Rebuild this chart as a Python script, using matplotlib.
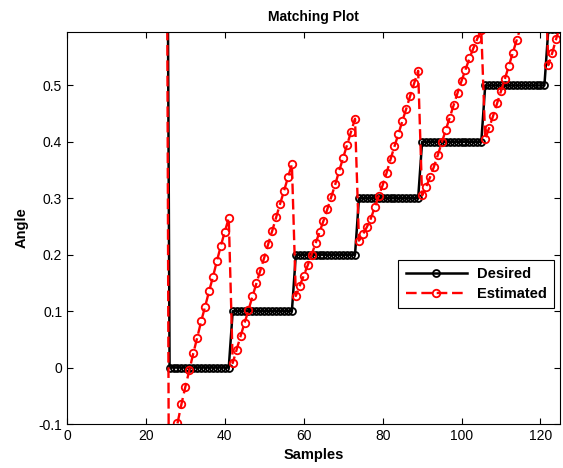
import numpy as np
import matplotlib
matplotlib.use('Agg')
import matplotlib.pyplot as plt

plt.rcParams['font.family'] = ['Liberation Sans', 'DejaVu Sans']

# sample index shared by both curves
samples = list(range(25, 126))

desired = [1.5,
           0.0, 0.0, 0.0, 0.0, 0.0, 0.0, 0.0, 0.0, 0.0, 0.0, 0.0, 0.0, 0.0, 0.0, 0.0, 0.0,
           0.1, 0.1, 0.1, 0.1, 0.1, 0.1, 0.1, 0.1, 0.1, 0.1, 0.1, 0.1, 0.1, 0.1, 0.1, 0.1,
           0.2, 0.2, 0.2, 0.2, 0.2, 0.2, 0.2, 0.2, 0.2, 0.2, 0.2, 0.2, 0.2, 0.2, 0.2, 0.2,
           0.3, 0.3, 0.3, 0.3, 0.3, 0.3, 0.3, 0.3, 0.3, 0.3, 0.3, 0.3, 0.3, 0.3, 0.3, 0.3,
           0.4, 0.4, 0.4, 0.4, 0.4, 0.4, 0.4, 0.4, 0.4, 0.4, 0.4, 0.4, 0.4, 0.4, 0.4, 0.4,
           0.5, 0.5, 0.5, 0.5, 0.5, 0.5, 0.5, 0.5, 0.5, 0.5, 0.5, 0.5, 0.5, 0.5, 0.5, 0.5,
           0.6, 0.6, 0.6, 0.6]

estimated = [1.5,
             -0.6, -0.13, -0.099, -0.065, -0.034, -0.005, 0.025, 0.053,
             0.082, 0.108, 0.135, 0.161, 0.189, 0.216, 0.241, 0.265,
             0.008, 0.032, 0.056, 0.079, 0.102, 0.126, 0.149, 0.172,
             0.195, 0.219, 0.242, 0.266, 0.290, 0.313, 0.337, 0.360,
             0.127, 0.145, 0.163, 0.181, 0.200, 0.220, 0.240, 0.260,
             0.281, 0.303, 0.325, 0.349, 0.372, 0.395, 0.418, 0.441,
             0.225, 0.236, 0.249, 0.264, 0.284, 0.304, 0.323, 0.345,
             0.369, 0.392, 0.414, 0.437, 0.459, 0.482, 0.504, 0.526,
             0.305, 0.320, 0.337, 0.356, 0.377, 0.399, 0.421, 0.443,
             0.465, 0.487, 0.508, 0.528, 0.548, 0.566, 0.583, 0.598,
             0.405, 0.425, 0.446, 0.468, 0.490, 0.512, 0.535, 0.558,
             0.581, 0.604, 0.627, 0.650, 0.673, 0.696, 0.719, 0.742,
             0.536, 0.558, 0.583, 0.607]

xticks = [0, 20, 40, 60, 80, 100, 120]
yticks = [-0.1, 0, 0.1, 0.2, 0.3, 0.4, 0.5]
ytick_labels = ['-0.1', '0', '0.1', '0.2', '0.3', '0.4', '0.5']

fig = plt.figure(figsize=(5.63, 4.68), dpi=100)
ax = fig.add_axes([0.119, 0.094, 0.876, 0.838])

ax.plot(samples, desired, color='black', linewidth=1.8, marker='o',
        markersize=5, markerfacecolor='none', markeredgewidth=1.3,
        label='Desired')
est_line, = ax.plot(samples, estimated, color='red', linewidth=1.7,
                    linestyle='--', marker='o', markersize=5.4,
                    markerfacecolor='none', markeredgewidth=1.3,
                    label='Estimated')
est_line.set_dashes([4.5, 2])

ax.set_xlim(0, 125)
ax.set_ylim(-0.1, 0.595)
ax.set_xticks(xticks)
ax.set_xticklabels([str(t) for t in xticks])
ax.set_yticks(yticks)
ax.set_yticklabels(ytick_labels)
ax.tick_params(direction='in', length=4, width=0.8, labelsize=10,
               top=True, right=True, colors='black')
for s in ax.spines.values():
    s.set_linewidth(0.8)

ax.set_title('Matching Plot', fontsize=10, fontweight='bold', pad=8)
ax.set_xlabel('Samples', fontsize=10.5, fontweight='bold', labelpad=4)
ax.set_ylabel('Angle', fontsize=10.5, fontweight='bold', labelpad=7)

leg = ax.legend(loc='upper left', bbox_to_anchor=(0.657, 0.437),
                fancybox=False, framealpha=1, edgecolor='black',
                prop={'weight': 'bold', 'size': 10.5}, handlelength=4.2,
                borderpad=0.5, labelspacing=0.4, handletextpad=0.7)
leg.get_frame().set_linewidth(0.8)

fig.savefig('out.png', dpi=100)
